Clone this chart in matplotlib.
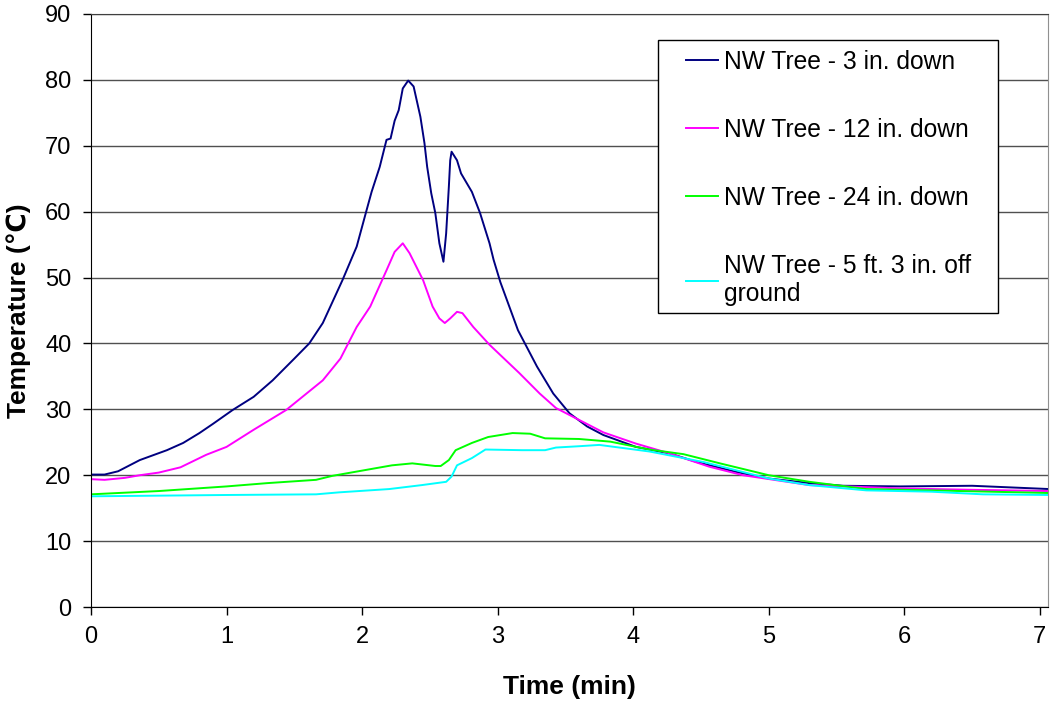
import numpy as np
import matplotlib
matplotlib.use("Agg")
import matplotlib.pyplot as plt
import matplotlib.patches as patches

plt.rcParams['font.family'] = ['Liberation Sans', 'DejaVu Sans']

# NW Tree - 3 in. down
t_3in = [0.0, 0.1, 0.2, 0.36, 0.56, 0.68, 0.80, 0.90, 1.045, 1.20, 1.34, 1.50, 1.61, 1.71,
         1.855, 1.96, 2.03, 2.07, 2.13, 2.18, 2.21, 2.24, 2.27, 2.30, 2.34, 2.38, 2.43, 2.46,
         2.48, 2.51, 2.54, 2.57, 2.60, 2.62, 2.64, 2.65, 2.66, 2.70, 2.73, 2.81, 2.87, 2.94,
         2.97, 3.02, 3.15, 3.29, 3.41, 3.53, 3.66, 3.78, 4.02, 4.27, 4.47, 4.76, 5.0, 5.3,
         5.55, 5.97, 6.5, 7.07]
T_3in = [20.1, 20.1, 20.6, 22.3, 23.8, 24.9, 26.4, 27.8, 29.9, 31.9, 34.4, 37.7, 40.0, 43.1,
         49.6, 54.7, 60.0, 63.0, 66.8, 70.9, 71.1, 73.8, 75.4, 78.7, 79.9, 79.0, 74.4, 70.4,
         66.8, 62.8, 59.8, 55.2, 52.4, 56.7, 63.8, 67.8, 69.1, 67.8, 65.8, 63.0, 59.8, 55.2,
         52.7, 49.3, 42.0, 36.5, 32.4, 29.4, 27.4, 26.1, 24.3, 23.3, 22.0, 20.5, 19.5, 18.8,
         18.4, 18.3, 18.4, 17.9]

# NW Tree - 12 in. down
t_12in = [0.0, 0.1, 0.25, 0.36, 0.5, 0.66, 0.85, 1.0, 1.2, 1.44, 1.71, 1.84, 1.96, 2.06,
          2.18, 2.24, 2.30, 2.35, 2.45, 2.52, 2.57, 2.61, 2.65, 2.70, 2.74, 2.82, 2.94, 3.16,
          3.31, 3.43, 3.6, 3.78, 4.02, 4.27, 4.56, 4.81, 5.3, 5.97, 6.46, 7.07]
T_12in = [19.4, 19.3, 19.6, 20.0, 20.4, 21.2, 23.1, 24.3, 26.9, 29.9, 34.4, 37.7, 42.5, 45.6,
          51.1, 53.9, 55.2, 53.7, 49.6, 45.6, 43.8, 43.1, 43.8, 44.8, 44.6, 42.5, 39.8, 35.5,
          32.4, 30.2, 28.4, 26.5, 24.8, 23.3, 21.3, 20.0, 18.5, 18.0, 17.8, 17.6]

# NW Tree - 24 in. down
t_24in = [0.0, 0.5, 1.0, 1.3, 1.66, 1.78, 2.0, 2.22, 2.37, 2.54, 2.58, 2.64, 2.69, 2.81,
          2.93, 3.11, 3.24, 3.35, 3.6, 3.83, 4.12, 4.37, 4.64, 5.0, 5.3, 5.72, 6.2, 7.07]
T_24in = [17.1, 17.6, 18.3, 18.8, 19.3, 19.9, 20.7, 21.5, 21.8, 21.4, 21.4, 22.3, 23.8, 24.9,
          25.8, 26.4, 26.3, 25.6, 25.5, 25.1, 23.9, 23.2, 21.8, 20.0, 19.0, 17.9, 17.7, 17.3]

# NW Tree - 5 ft. 3 in. off ground
t_5ft = [0.0, 0.5, 1.0, 1.66, 1.83, 2.2, 2.44, 2.62, 2.66, 2.70, 2.81, 2.91, 3.18, 3.35,
         3.43, 3.6, 3.75, 4.12, 4.52, 5.0, 5.3, 5.72, 6.2, 6.58, 7.07]
T_5ft = [16.8, 16.9, 17.0, 17.1, 17.4, 17.9, 18.5, 19.0, 19.8, 21.5, 22.6, 23.9, 23.8, 23.8,
         24.2, 24.4, 24.6, 23.6, 22.0, 19.5, 18.5, 17.7, 17.5, 17.1, 17.0]

labels = ['NW Tree - 3 in. down', 'NW Tree - 12 in. down', 'NW Tree - 24 in. down',
          'NW Tree - 5 ft. 3 in. off\nground']
colors = ['#000080', '#FF00FF', '#00FF00', '#00FFFF']

fig = plt.figure(figsize=(10.5, 7.04), dpi=100)
ax = fig.add_axes([91 / 1050, 97 / 704, 957 / 1050, 593 / 704])

series = [(t_3in, T_3in), (t_12in, T_12in), (t_24in, T_24in), (t_5ft, T_5ft)]
for (t, T), lab, c in zip(series, labels, colors):
    ax.plot(t, T, color=c, lw=1.4, label=lab)

ax.set_xlim(0, 7.06)
ax.set_ylim(0, 90)
ax.set_xticks(range(0, 8))
ax.set_yticks(range(0, 91, 10))
ax.yaxis.grid(True, color='#505050', lw=1.0)
ax.set_axisbelow(True)

ax.tick_params(axis='both', direction='out', length=6, width=1, labelsize=17, pad=8)
ax.spines['left'].set_color('black')
ax.spines['bottom'].set_color('black')
ax.spines['top'].set_color('#404040')
ax.spines['right'].set_color('#909090')

ax.set_xlabel('Time (min)', fontsize=19, fontweight='bold', labelpad=19)
ax.set_ylabel('Temperature (℃)', fontsize=19, fontweight='bold', labelpad=10)

# legend box drawn separately so the side padding can differ from the top/bottom
frame = patches.Rectangle((658 / 1050, (704 - 313) / 704), 340 / 1050, 273 / 704,
                          transform=fig.transFigure, facecolor='white',
                          edgecolor='black', lw=1.0, zorder=5, clip_on=False)
ax.add_patch(frame)

leg = ax.legend(loc='upper left', bbox_to_anchor=(686 / 1050, (704 - 50) / 704),
                bbox_transform=fig.transFigure, fontsize=17.7, frameon=False,
                labelspacing=1.79, handlelength=1.3, handletextpad=0.25,
                borderpad=0, borderaxespad=0)
leg.set_zorder(6)

fig.savefig('out.png', dpi=100)
